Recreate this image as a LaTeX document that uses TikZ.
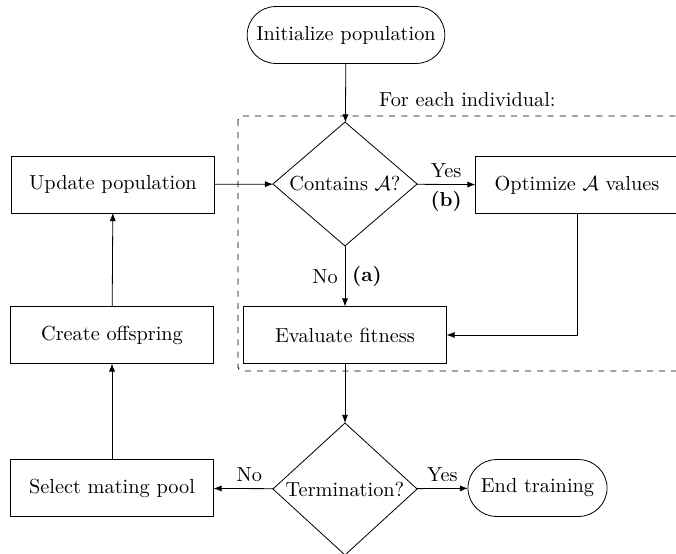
\documentclass[tikz,border=0pt]{standalone}
\usepackage{amsmath}
\usepackage{amssymb}
\usetikzlibrary{shapes.geometric}
\usetikzlibrary{arrows.meta}
\tikzstyle{block}=[draw, inner sep=0, outer sep=0, minimum height=28pt]
\tikzstyle{process}=[block, minimum width=100pt]
\tikzstyle{terminal}=[block, rounded corners=14pt, inner xsep=4.5pt]
\tikzstyle{decision}=[draw, diamond, aspect=1.16, inner sep=0, outer sep=0,
                      minimum width=71pt, minimum height=61pt]
\tikzstyle{flowchart}=[x=0.4925pt, y=-0.4925pt, >={Latex[length=4pt, width=3pt]},
                       % Labels sit close to the connectors.
                       every label/.style={inner sep=2pt}]

\begin{document}
\begin{tikzpicture}[flowchart]
        \useasboundingbox (0, 0) rectangle (676, 554);
        % Loop over the individuals.
        \draw[dashed, rounded corners=2pt] (238, 116) rectangle (700, 371);
        \node[anchor=base west] (foreach) at (372, 107) {For each individual:};

        \node[terminal]                    (init) at (346, 35) {Initialize population};
        \node[decision]                    (contains) at (345, 184) {Contains \(\mathcal{A}\)?};
        \node[process]                     (optimize) at (577, 185) {Optimize \(\mathcal{A}\) values};
        \node[process]                     (evaluate) at (345, 335) {Evaluate fitness};
        \node[process]                     (update) at (113, 184.5) {Update population};
        \node[process]                     (create) at (112, 335) {Create offspring};
        \node[decision, minimum height=65pt] (termination) at (345, 489) {Termination?};
        \node[process]                     (select) at (112, 488) {Select mating pool};
        \node[terminal, minimum width=68.5pt] (end) at (537.5, 488) {End training};

        \draw[->] (init) -- (contains);
        \draw[->] (update) -- (contains);
        \draw[->] (contains) -- node[above] {Yes} node[below] {\textbf{(b)}} (optimize);
        \draw[->] (contains) -- node[left] {No} node[right] {\textbf{(a)}} (evaluate);
        \draw[->] (optimize) |- (evaluate);
        \draw[->] (evaluate) -- (termination);
        \draw[->] (termination) -- node[above, pos=0.4] {No} (select);
        \draw[->] (termination) -- node[above] {Yes} (end);
        \draw[->] (select) -- (create);
        \draw[->] (create) -- (update);
    \end{tikzpicture}
\end{document}
